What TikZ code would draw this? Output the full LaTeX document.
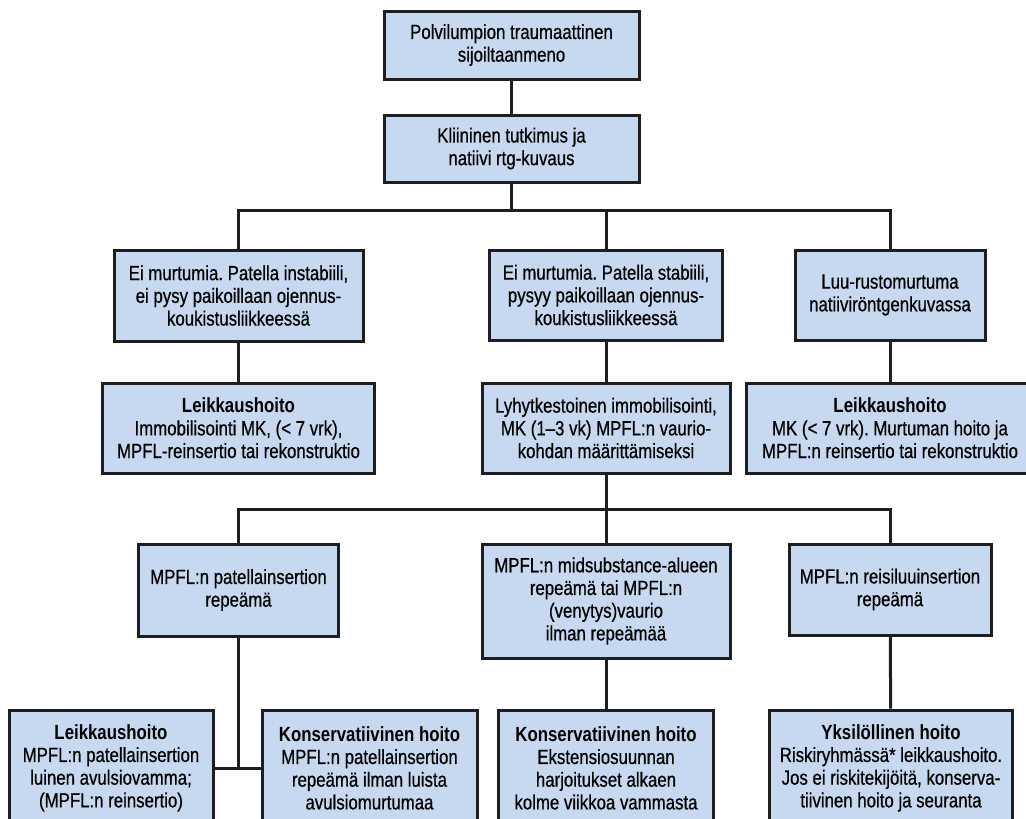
\documentclass[tikz,border=0pt]{standalone}
\usepackage{fontspec}
\setmainfont[FakeStretch=0.82, UprightFeatures={FakeBold=0.6}]{Liberation Sans}
\frenchspacing
\definecolor{boxblue}{RGB}{198,217,240}
\definecolor{boxline}{RGB}{30,30,30}

\tikzstyle{box}=[draw=boxline,line width=3pt,fill=boxblue,align=center,inner sep=0pt,font=\fontsize{20.5}{22.7}\selectfont]
\tikzstyle{edge} = [draw=boxline,line width=3pt,-]

\begin{document}
\begin{tikzpicture}[x=1pt, y=-1pt]
    \useasboundingbox (0,0) rectangle (1026,819);
    \clip (0,0) rectangle (1026,819);
    % First we draw the boxes
    \node[box, minimum width=255pt, minimum height=68pt] (top) at (511.5,45)
        {Polvilumpion traumaattinen\\sijoiltaanmeno};
    \node[box, minimum width=255pt, minimum height=67pt] (exam) at (511.5,148.5)
        {Kliininen tutkimus ja\\natiivi rtg-kuvaus};
    \node[box, minimum width=249pt, minimum height=91pt] (instab) at (238.5,295.5)
        {Ei murtumia. Patella instabiili,\\ei pysy paikoillaan ojennus-\\koukistusliikkeessä};
    \node[box, minimum width=233pt, minimum height=90pt] (stab) at (606,295)
        {Ei murtumia. Patella stabiili,\\pysyy paikoillaan ojennus-\\koukistusliikkeessä};
    \node[box, minimum width=190pt, minimum height=90pt] (frac) at (890,295)
        {Luu-rustomurtuma\\natiiviröntgenkuvassa};
    \node[box, minimum width=272pt, minimum height=90pt] (leik1) at (238.5,428)
        {\textbf{Leikkaushoito}\\Immobilisointi MK, (< 7 vrk),\\MPFL-reinsertio tai rekonstruktio};
    \node[box, minimum width=248pt, minimum height=90pt] (immob) at (606,428)
        {Lyhytkestoinen immobilisointi,\\MK (1–3 vk) MPFL:n vaurio-\\kohdan määrittämiseksi};
    \node[box, minimum width=288pt, minimum height=90pt] (leik2) at (890,428)
        {\textbf{Leikkaushoito}\\MK (< 7 vrk). Murtuman hoito ja\\MPFL:n reinsertio tai rekonstruktio};
    \node[box, minimum width=200pt, minimum height=92pt] (patins) at (238.5,590)
        {MPFL:n patellainsertion\\repeämä};
    \node[box, minimum width=248pt, minimum height=114pt] (midsub) at (606,601)
        {MPFL:n midsubstance-alueen\\repeämä tai MPFL:n\\(venytys)vaurio\\ilman repeämää};
    \node[box, minimum width=202pt, minimum height=91pt] (reisi) at (890,589.5)
        {MPFL:n reisiluuinsertion\\repeämä};
    \node[box, minimum width=204pt, minimum height=116pt] (leik3) at (111,768)
        {\textbf{Leikkaushoito}\\MPFL:n patellainsertion\\luinen avulsiovamma;\\(MPFL:n reinsertio)};
    \node[box, minimum width=215pt, minimum height=116pt] (kons1) at (369.5,768)
        {\textbf{Konservatiivinen hoito}\\MPFL:n patellainsertion\\repeämä ilman luista\\avulsiomurtumaa};
    \node[box, minimum width=215pt, minimum height=116pt] (kons2) at (606,768)
        {\textbf{Konservatiivinen hoito}\\Ekstensiosuunnan\\harjoitukset alkaen\\kolme viikkoa vammasta};
    \node[box, minimum width=243pt, minimum height=116pt] (yksi) at (891,768)
        {\textbf{Yksilöllinen hoito}\\Riskiryhmässä* leikkaushoito.\\Jos ei riskitekijöitä, konserva-\\tiivinen hoito ja seuranta};
    % Branch points
    \coordinate (busA) at (511.5,210);
    \coordinate (busB) at (606,509);
    \coordinate (join) at (238.5,768);
    % Connect the boxes
    \foreach \source/\dest in {top/exam, exam/busA, stab/immob, instab/leik1, frac/leik2,
        immob/busB, midsub/kons2, reisi/yksi, patins/join, leik3/kons1}
        \path[edge] (\source) -- (\dest);
    \foreach \dest in {instab, stab, frac}
        \path[edge] (busA) -| (\dest);
    \foreach \dest in {patins, midsub, reisi}
        \path[edge] (busB) -| (\dest);
\end{tikzpicture}
\end{document}
